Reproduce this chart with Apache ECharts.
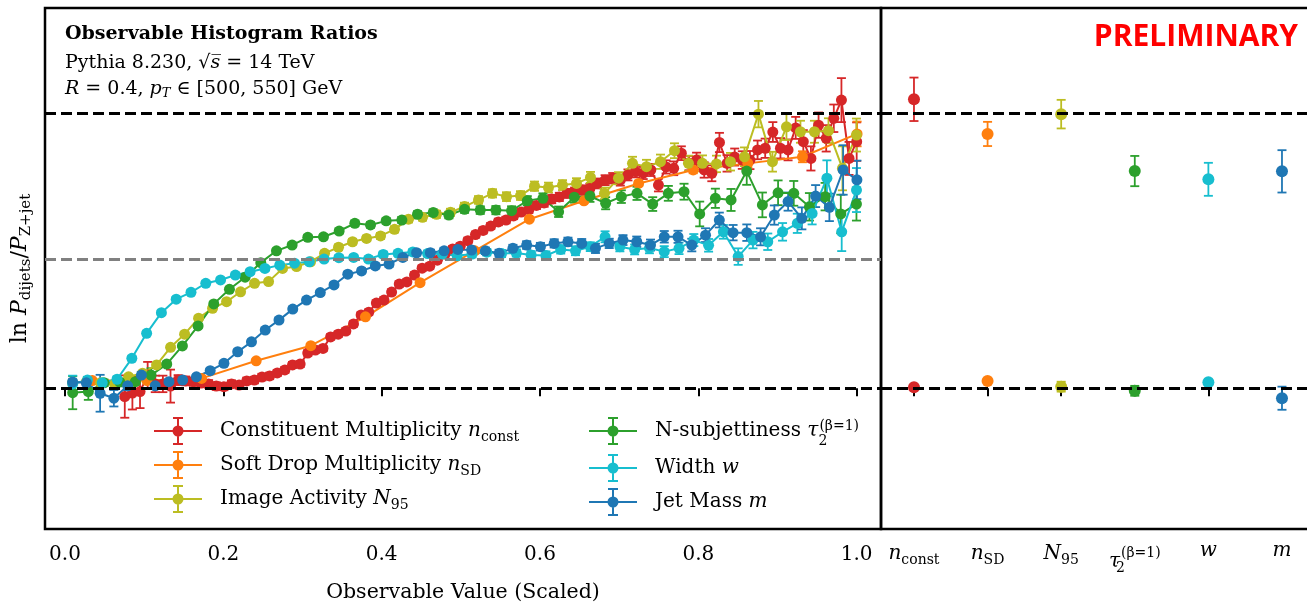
<!DOCTYPE html>
<html>
<head>
<meta charset="utf-8">
<title>Observable Histogram Ratios</title>
<script src="https://cdn.jsdelivr.net/npm/echarts@6/dist/echarts.min.js"></script>
<style>
  html, body { margin: 0; padding: 0; background: #ffffff; }
  #chart { width: 1307px; height: 606px; }
</style>
</head>
<body>
<div id="chart"></div>
<script>
// ---------------------------------------------------------------------------
// Data: ln(P_dijets / P_Z+jet) per scaled observable bin
// Each observable: [first bin centre, bin spacing] on the scaled axis,
// then the per-bin values and their statistical errors.
// ---------------------------------------------------------------------------
const nconstBins = [0.0755, 0.00963];
const nconstVals = [
  -0.030, -0.017, -0.012, 0.048, 0.016, 0.016, 0.008, 0.030, 0.027, 0.024,
  0.019, 0.016, 0.008, 0.006, 0.016, 0.012, 0.027, 0.030, 0.041, 0.045,
  0.056, 0.067, 0.085, 0.088, 0.128, 0.139, 0.145, 0.187, 0.197, 0.208,
  0.234, 0.267, 0.277, 0.310, 0.321, 0.350, 0.379, 0.387, 0.412, 0.437,
  0.444, 0.466, 0.488, 0.507, 0.517, 0.537, 0.559, 0.574, 0.590, 0.605,
  0.612, 0.627, 0.641, 0.650, 0.665, 0.674, 0.688, 0.696, 0.709, 0.714,
  0.721, 0.727, 0.745, 0.757, 0.764, 0.757, 0.776, 0.788, 0.783, 0.794,
  0.739, 0.805, 0.800, 0.855, 0.819, 0.830, 0.794, 0.782, 0.894, 0.818,
  0.841, 0.830, 0.830, 0.867, 0.873, 0.932, 0.873, 0.867, 0.947, 0.897,
  0.836, 0.957, 0.909, 0.982, 1.048, 0.836, 0.897
];
const nconstErrs = [
  0.077, 0.060, 0.060, 0.048, 0.030, 0.030, 0.060, 0.018, 0.016, 0.015,
  0.015, 0.014, 0.014, 0.013, 0.013, 0.013, 0.012, 0.012, 0.012, 0.012,
  0.011, 0.011, 0.011, 0.011, 0.010, 0.010, 0.010, 0.010, 0.010, 0.010,
  0.010, 0.010, 0.010, 0.010, 0.010, 0.010, 0.010, 0.010, 0.010, 0.010,
  0.010, 0.010, 0.010, 0.010, 0.010, 0.011, 0.011, 0.011, 0.011, 0.012,
  0.012, 0.012, 0.012, 0.013, 0.013, 0.014, 0.015, 0.015, 0.016, 0.016,
  0.017, 0.017, 0.018, 0.018, 0.019, 0.020, 0.020, 0.021, 0.022, 0.022,
  0.023, 0.024, 0.025, 0.025, 0.026, 0.027, 0.028, 0.029, 0.035, 0.030,
  0.031, 0.032, 0.033, 0.034, 0.035, 0.036, 0.037, 0.038, 0.040, 0.042,
  0.044, 0.046, 0.048, 0.050, 0.080, 0.060, 0.070
];

const nsdBins = [0.0345, 0.069];
const nsdVals = [0.028, 0.028, 0.036, 0.100, 0.155, 0.260, 0.384, 0.500, 0.615, 0.682, 0.745, 0.794, 0.818, 0.842, 0.925];
const nsdErrs = [0.006, 0.005, 0.005, 0.005, 0.005, 0.005, 0.006, 0.006, 0.007, 0.008, 0.010, 0.012, 0.015, 0.020, 0.045];

const n95Bins = [0.0096, 0.01768];
const n95Vals = [
  0.020, 0.025, 0.020, 0.015, 0.042, 0.055, 0.085, 0.149, 0.197, 0.255,
  0.291, 0.315, 0.351, 0.382, 0.388, 0.436, 0.443, 0.460, 0.491, 0.513,
  0.533, 0.545, 0.554, 0.578, 0.615, 0.622, 0.633, 0.640, 0.661, 0.685,
  0.709, 0.697, 0.701, 0.735, 0.730, 0.739, 0.745, 0.767, 0.709, 0.764,
  0.818, 0.806, 0.824, 0.864, 0.818, 0.818, 0.816, 0.824, 0.842, 0.997,
  0.824, 0.951, 0.933, 0.933, 0.937, 0.800, 0.921
];
const n95Errs = [
  0.010, 0.008, 0.008, 0.008, 0.008, 0.008, 0.008, 0.008, 0.008, 0.008,
  0.008, 0.008, 0.008, 0.008, 0.008, 0.008, 0.009, 0.009, 0.009, 0.010,
  0.010, 0.010, 0.011, 0.011, 0.012, 0.012, 0.013, 0.013, 0.014, 0.014,
  0.015, 0.016, 0.016, 0.017, 0.018, 0.018, 0.019, 0.020, 0.021, 0.022,
  0.024, 0.025, 0.026, 0.027, 0.028, 0.029, 0.030, 0.032, 0.034, 0.048,
  0.036, 0.048, 0.040, 0.040, 0.045, 0.080, 0.060
];

const tauBins = [0.0097, 0.0198];
const tauVals = [
  -0.016, -0.012, 0.020, 0.023, 0.024, 0.048, 0.088, 0.154, 0.227, 0.307,
  0.360, 0.404, 0.457, 0.500, 0.521, 0.549, 0.551, 0.572, 0.600, 0.594,
  0.609, 0.612, 0.633, 0.639, 0.630, 0.651, 0.648, 0.648, 0.646, 0.682,
  0.691, 0.642, 0.695, 0.699, 0.673, 0.697, 0.709, 0.670, 0.709, 0.715,
  0.634, 0.691, 0.685, 0.790, 0.667, 0.711, 0.709, 0.660, 0.697, 0.634,
  0.670
];
const tauErrs = [
  0.060, 0.030, 0.012, 0.010, 0.010, 0.025, 0.008, 0.008, 0.008, 0.008,
  0.008, 0.008, 0.008, 0.008, 0.008, 0.009, 0.009, 0.009, 0.010, 0.010,
  0.010, 0.011, 0.011, 0.012, 0.012, 0.013, 0.014, 0.015, 0.016, 0.017,
  0.018, 0.019, 0.020, 0.021, 0.022, 0.023, 0.024, 0.025, 0.027, 0.029,
  0.045, 0.035, 0.040, 0.050, 0.045, 0.045, 0.045, 0.050, 0.050, 0.070,
  0.060
];

const widthBins = [0.0097, 0.01868];
const widthVals = [
  0.016, 0.030, 0.020, 0.033, 0.109, 0.200, 0.275, 0.324, 0.349, 0.382,
  0.394, 0.412, 0.424, 0.436, 0.448, 0.455, 0.460, 0.470, 0.475, 0.476,
  0.470, 0.487, 0.491, 0.496, 0.490, 0.488, 0.482, 0.488, 0.495, 0.490,
  0.492, 0.485, 0.483, 0.505, 0.500, 0.515, 0.551, 0.515, 0.505, 0.510,
  0.497, 0.509, 0.539, 0.520, 0.569, 0.479, 0.539, 0.533, 0.569, 0.600,
  0.636, 0.764, 0.569, 0.721
];
const widthErrs = [
  0.030, 0.012, 0.010, 0.010, 0.008, 0.008, 0.008, 0.008, 0.008, 0.008,
  0.008, 0.008, 0.008, 0.008, 0.008, 0.008, 0.008, 0.008, 0.009, 0.009,
  0.009, 0.010, 0.010, 0.010, 0.011, 0.011, 0.012, 0.012, 0.012, 0.013,
  0.013, 0.014, 0.015, 0.015, 0.016, 0.016, 0.020, 0.017, 0.018, 0.019,
  0.020, 0.021, 0.022, 0.023, 0.025, 0.030, 0.030, 0.030, 0.032, 0.035,
  0.040, 0.065, 0.070, 0.080
];

const massBins = [0.0096, 0.01738];
const massVals = [
  0.023, 0.020, -0.018, -0.036, 0.009, 0.048, 0.009, 0.024, 0.030, 0.042,
  0.064, 0.091, 0.133, 0.169, 0.212, 0.248, 0.288, 0.321, 0.348, 0.376,
  0.415, 0.427, 0.445, 0.452, 0.476, 0.493, 0.493, 0.500, 0.505, 0.503,
  0.500, 0.491, 0.509, 0.521, 0.515, 0.527, 0.533, 0.527, 0.509, 0.527,
  0.539, 0.533, 0.521, 0.551, 0.551, 0.521, 0.557, 0.612, 0.566, 0.566,
  0.551, 0.630, 0.679, 0.618, 0.699, 0.658, 0.794, 0.758
];
const massErrs = [
  0.010, 0.010, 0.067, 0.030, 0.015, 0.012, 0.010, 0.009, 0.008, 0.008,
  0.008, 0.008, 0.008, 0.008, 0.008, 0.008, 0.008, 0.008, 0.008, 0.008,
  0.009, 0.009, 0.009, 0.010, 0.010, 0.010, 0.011, 0.011, 0.011, 0.012,
  0.012, 0.013, 0.013, 0.014, 0.014, 0.015, 0.015, 0.016, 0.017, 0.017,
  0.018, 0.019, 0.020, 0.021, 0.022, 0.023, 0.025, 0.027, 0.028, 0.030,
  0.031, 0.035, 0.033, 0.040, 0.040, 0.050, 0.090, 0.070
];

// Summary panel: one entry per observable (upper and lower plateau values)
const summaryLabels = [
  '{i|n}{s|const}',
  '{i|n}{s|SD}',
  '{i|N}{s|95}',
  '{it|τ}{s2|2}{p|(β=1)}',
  '{i|w}',
  '{i|m}'
];
const summaryHigh    = [1.051, 0.925, 0.997, 0.790, 0.760, 0.789];
const summaryHighErr = [0.079, 0.044, 0.052, 0.055, 0.060, 0.077];
const summaryLow     = [0.004, 0.027, 0.006, -0.009, 0.022, -0.036];
const summaryLowErr  = [0.006, 0.006, 0.018, 0.018, 0.006, 0.042];

// Axis ticks and reference levels
const scaledTicks = [0, 0.2, 0.4, 0.6, 0.8, 1.0];
const summaryTicks = [0, 1, 2, 3, 4, 5];
const referenceLevels = [0, 1];
const midLevel = 0.475;

// ---------------------------------------------------------------------------
const FONT = 'DejaVu Serif';
const BLACK = '#000000';

// r: roman, i: italic, it: lowered italic, s: subscript,
// s2: zero-advance subscript stacked under the following superscript p
const rich = {
  r:  { fontFamily: FONT, fontSize: 20, color: BLACK },
  i:  { fontFamily: FONT, fontSize: 20, color: BLACK, fontStyle: 'italic' },
  it: { fontFamily: FONT, fontSize: 20, color: BLACK, fontStyle: 'italic', padding: [8, 0, 0, 0] },
  s:  { fontFamily: FONT, fontSize: 14, color: BLACK, padding: [12, 0, 0, 0] },
  s2: { fontFamily: FONT, fontSize: 14, color: BLACK, padding: [20, 0, 0, 0], width: 1, align: 'left' },
  p:  { fontFamily: FONT, fontSize: 14, color: BLACK, padding: [0, 0, 10, 0] }
};
const nameRich = {
  r:  { fontFamily: FONT, fontSize: 22, color: BLACK },
  i:  { fontFamily: FONT, fontSize: 22, color: BLACK, fontStyle: 'italic' },
  s:  { fontFamily: FONT, fontSize: 15, color: BLACK, padding: [13, 0, 0, 0] }
};

const observables = [
  { name: 'Constituent Multiplicity', label: '{r|Constituent Multiplicity }{i|n}{s|const}', color: '#d62728', bins: nconstBins, vals: nconstVals, errs: nconstErrs },
  { name: 'Soft Drop Multiplicity',  label: '{r|Soft Drop Multiplicity }{i|n}{s|SD}',      color: '#ff7f0e', bins: nsdBins,    vals: nsdVals,    errs: nsdErrs },
  { name: 'Image Activity',          label: '{r|Image Activity }{i|N}{s|95}',              color: '#bcbd22', bins: n95Bins,    vals: n95Vals,    errs: n95Errs },
  { name: 'N-subjettiness',          label: '{r|N-subjettiness }{i|τ}{s2|2}{p|(β=1)}',     color: '#2ca02c', bins: tauBins,    vals: tauVals,    errs: tauErrs },
  { name: 'Width',                   label: '{r|Width }{i|w}',                             color: '#17becf', bins: widthBins,  vals: widthVals,  errs: widthErrs },
  { name: 'Jet Mass',                label: '{r|Jet Mass }{i|m}',                          color: '#1f77b4', bins: massBins,   vals: massVals,   errs: massErrs }
];
const labelByName = {};
observables.forEach(o => { labelByName[o.name] = o.label; });

// vertical error bar with caps, drawn through the axes
function errorBar(params, api) {
  const x = api.value(0), y = api.value(1), e = api.value(2);
  const lo = api.coord([x, y - e]);
  const hi = api.coord([x, y + e]);
  const hw = 4.5;
  const style = { stroke: api.visual('color'), lineWidth: 1.8, fill: null };
  return {
    type: 'group',
    children: [
      { type: 'line', shape: { x1: lo[0], y1: lo[1], x2: hi[0], y2: hi[1] }, style },
      { type: 'line', shape: { x1: lo[0] - hw, y1: lo[1], x2: lo[0] + hw, y2: lo[1] }, style },
      { type: 'line', shape: { x1: hi[0] - hw, y1: hi[1], x2: hi[0] + hw, y2: hi[1] }, style }
    ]
  };
}

const series = [];

// dashed reference levels (behind the data)
series.push({
  type: 'line', name: 'levels-left', xAxisIndex: 0, yAxisIndex: 0, data: [], z: 1, silent: true,
  markLine: {
    silent: true, symbol: 'none', animation: false, label: { show: false },
    data: [
      ...referenceLevels.map(v => ({ yAxis: v, lineStyle: { color: BLACK, type: [11, 5], width: 3 } })),
      { yAxis: midLevel, lineStyle: { color: '#808080', type: [11, 5], width: 3 } }
    ]
  }
});
series.push({
  type: 'line', name: 'levels-right', xAxisIndex: 1, yAxisIndex: 1, data: [], z: 1, silent: true,
  markLine: {
    silent: true, symbol: 'none', animation: false, label: { show: false },
    data: referenceLevels.map(v => ({ yAxis: v, lineStyle: { color: BLACK, type: [11, 5], width: 3 } }))
  }
});

observables.forEach(o => {
  const pts = o.vals.map((v, i) => [o.bins[0] + o.bins[1] * i, v, o.errs[i]]);
  series.push({
    type: 'custom', name: o.name, xAxisIndex: 0, yAxisIndex: 0,
    renderItem: errorBar, data: pts, encode: { x: 0, y: 1 },
    itemStyle: { color: o.color }, z: 2, silent: true, clip: true
  });
  series.push({
    type: 'line', name: o.name, xAxisIndex: 0, yAxisIndex: 0,
    data: pts.map(p => [p[0], p[1]]),
    symbol: 'circle', symbolSize: 11, showSymbol: true,
    lineStyle: { width: 2, color: o.color },
    itemStyle: { color: o.color, opacity: 1 },
    z: 2, silent: true, clip: true
  });
});

// summary panel points
const summaryPoints = [];
summaryHigh.forEach((v, i) => summaryPoints.push({ value: [i, v, summaryHighErr[i]], itemStyle: { color: observables[i].color, opacity: 1 } }));
summaryLow.forEach((v, i) => summaryPoints.push({ value: [i, v, summaryLowErr[i]], itemStyle: { color: observables[i].color, opacity: 1 } }));

series.push({
  type: 'custom', name: 'summary-errors', xAxisIndex: 1, yAxisIndex: 1,
  renderItem: errorBar, data: summaryPoints, encode: { x: 0, y: 1 }, z: 2, silent: true
});
series.push({
  type: 'scatter', name: 'summary', xAxisIndex: 1, yAxisIndex: 1,
  data: summaryPoints.map(p => ({ value: [p.value[0], p.value[1]], itemStyle: p.itemStyle })),
  symbol: 'circle', symbolSize: 12, z: 3, silent: true,
  itemStyle: { opacity: 1 }
});

const legendIcon = 'path://M0,13L48,13L48,15L0,15Z M23,0L25,0L25,28L23,28Z M19,0L29,0L29,2L19,2Z M19,26L29,26L29,28L19,28Z M29.5,14A5.5,5.5 0 1 1 18.5,14A5.5,5.5 0 1 1 29.5,14Z';
const legendCommon = {
  orient: 'vertical', top: 412, itemWidth: 48, itemHeight: 28, itemGap: 6,
  icon: legendIcon, selectedMode: false,
  formatter: name => labelByName[name],
  textStyle: { fontFamily: FONT, fontSize: 20, color: BLACK, padding: [0, 0, 0, 13], rich }
};

const yCommon = {
  type: 'value', min: -0.5116, max: 1.383,
  axisLine: { show: false }, axisTick: { show: false },
  axisLabel: { show: false }, splitLine: { show: false }
};

const titleRich = {
  r: { fontFamily: FONT, fontSize: 19, fill: BLACK },
  i: { fontFamily: FONT, fontSize: 19, fill: BLACK, fontStyle: 'italic' },
  s: { fontFamily: FONT, fontSize: 13, fill: BLACK, fontStyle: 'italic', padding: [10, 0, 0, 0] }
};

const option = {
  animation: false,
  backgroundColor: '#ffffff',
  grid: [
    { left: 45, top: 8, width: 836, height: 521, show: true, borderColor: BLACK, borderWidth: 2.5, backgroundColor: 'transparent', containLabel: false, outerBoundsMode: 'none' },
    { left: 881, top: 8, width: 450, height: 521, show: true, borderColor: BLACK, borderWidth: 2.5, backgroundColor: 'transparent', containLabel: false, outerBoundsMode: 'none' }
  ],
  xAxis: [
    {
      gridIndex: 0, type: 'value', min: -0.02526, max: 1.0307,
      axisLine: { show: false }, splitLine: { show: false },
      axisTick: { show: true, customValues: scaledTicks, length: 8, lineStyle: { color: BLACK, width: 2 } },
      axisLabel: { customValues: scaledTicks, formatter: v => v.toFixed(1), fontFamily: FONT, fontSize: 20, color: BLACK, margin: 16 },
      name: 'Observable Value (Scaled)', nameLocation: 'middle', nameGap: 53,
      nameTextStyle: { fontFamily: FONT, fontSize: 20.5, color: BLACK }
    },
    {
      gridIndex: 1, type: 'value', min: -0.448, max: 5.666,
      axisLine: { show: false }, splitLine: { show: false },
      axisTick: { show: true, customValues: summaryTicks, length: 8, lineStyle: { color: BLACK, width: 2 } },
      axisLabel: { customValues: summaryTicks, formatter: v => summaryLabels[Math.round(v)], fontFamily: FONT, fontSize: 20, color: BLACK, margin: 12, rich }
    }
  ],
  yAxis: [
    Object.assign({ gridIndex: 0 }, yCommon, {
      name: '{r|ln }{i|P}{s|dijets}{r|/}{i|P}{s|Z+jet}',
      nameLocation: 'middle', nameRotate: 90, nameGap: 11,
      nameTextStyle: { fontFamily: FONT, fontSize: 22, color: BLACK, rich: nameRich }
    }),
    Object.assign({ gridIndex: 1 }, yCommon)
  ],
  legend: [
    Object.assign({ left: 149, data: observables.slice(0, 3).map(o => o.name) }, legendCommon),
    Object.assign({ left: 584, data: observables.slice(3).map(o => o.name) }, legendCommon)
  ],
  graphic: [
    {
      type: 'text', x: 65, y: 34, silent: true,
      style: { text: 'Observable Histogram Ratios', fontFamily: FONT, fontSize: 19, fontWeight: 'bold', fill: BLACK, verticalAlign: 'middle' }
    },
    {
      type: 'text', x: 65, y: 63, silent: true,
      style: { text: '{r|Pythia 8.230, √}{i|s\u0305}{r| = 14 TeV}', verticalAlign: 'middle', rich: titleRich }
    },
    {
      type: 'text', x: 65, y: 89, silent: true,
      style: { text: '{i|R}{r| = 0.4, }{i|p}{s|T}{r| ∈ [500, 550] GeV}', verticalAlign: 'middle', rich: titleRich }
    },
    {
      type: 'text', x: 1298, y: 37, silent: true,
      style: { text: 'PRELIMINARY', fontFamily: 'Open Sans', fontSize: 30, fontWeight: 'bold', fill: '#ff0000', align: 'right', verticalAlign: 'middle' }
    }
  ],
  series
};

const chart = echarts.init(document.getElementById('chart'), null, { renderer: 'canvas' });
chart.setOption(option);
</script>
</body>
</html>
